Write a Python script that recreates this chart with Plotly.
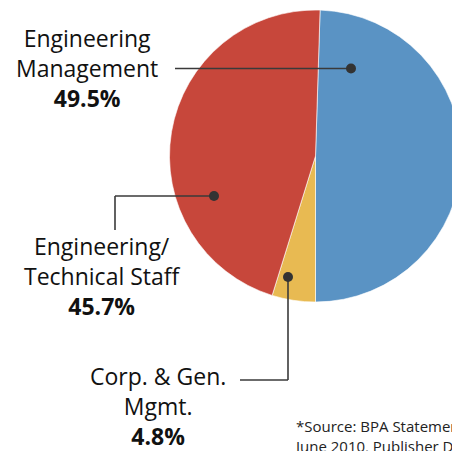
import plotly.graph_objects as go

categories = ["Engineering Management", "Corp. & Gen. Mgmt.", "Engineering/ Technical Staff"]
values = [49.5, 4.8, 45.7]
colors = ["#5A93C4", "#E8BA52", "#C7473B"]
label_lines = [["Engineering", "Management"], ["Corp. & Gen.", "Mgmt."], ["Engineering/", "Technical Staff"]]
pct_labels = ["49.5%", "4.8%", "45.7%"]
source_note = "*Source: BPA Statement<br>June 2010, Publisher Data"

W, H = 470, 451
def px(x):
    return x / W
def py(y):
    return 1 - y / H

# pie placement (pixels)
cx, cy, r = 315.5, 156.0, 146.0

fig = go.Figure(go.Pie(
    labels=categories, values=values, sort=False, direction="clockwise",
    rotation=1.8, textinfo="none", hoverinfo="label+percent",
    marker=dict(colors=colors, line=dict(color="white", width=0.6)),
    domain=dict(x=[px(cx - r), px(cx + r)], y=[py(cy + r), py(cy - r)]),
    showlegend=False,
))

font_family = "Open Sans, Noto Sans, sans-serif"
label_pos = [(87, 68), (158, 406), (102, 276)]
for lines, pct, (lx, ly) in zip(label_lines, pct_labels, label_pos):
    fig.add_annotation(
        x=px(lx), y=py(ly), xref="paper", yref="paper",
        text="<br>".join(lines) + "<br><b>" + pct + "</b>",
        showarrow=False, xanchor="center", yanchor="middle", align="center",
        font=dict(family=font_family, size=23, color="#111111"),
    )

fig.add_annotation(
    x=px(292), y=py(414), xref="paper", yref="paper", text=source_note,
    showarrow=False, xanchor="left", yanchor="top", align="left",
    font=dict(family=font_family, size=15, color="#222222"),
)

lc = "#3a3a3a"
segments = [
    ((175, 68.5), (351, 68.5)),
    ((115, 230), (115, 196)), ((115, 196), (214, 196)),
    ((240, 380), (288, 380)), ((288, 380), (288, 277)),
]
for (x0, y0), (x1, y1) in segments:
    fig.add_shape(type="line", xref="paper", yref="paper",
                  x0=px(x0), y0=py(y0), x1=px(x1), y1=py(y1),
                  line=dict(color=lc, width=1.6))
for (dx, dy) in [(351, 68.5), (214, 196), (288, 277)]:
    fig.add_shape(type="circle", xref="paper", yref="paper",
                  x0=px(dx - 5), x1=px(dx + 5), y0=py(dy + 5), y1=py(dy - 5),
                  fillcolor="#333333", line=dict(color="#333333", width=0))

fig.update_layout(width=W, height=H, margin=dict(l=0, r=0, t=0, b=0),
                  paper_bgcolor="white", plot_bgcolor="white")

fig.write_html("out.html", config={"displayModeBar": False},
               post_script="document.body.style.margin='0';document.body.style.overflow='hidden';")
